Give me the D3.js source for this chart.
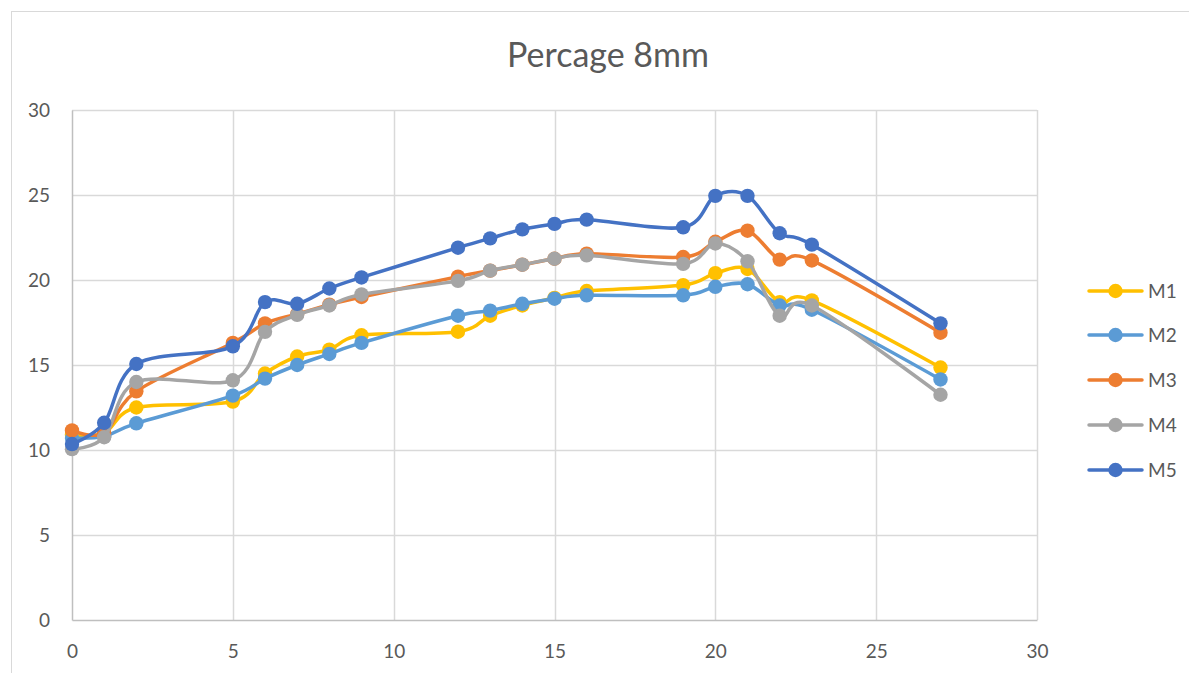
<!DOCTYPE html>
<html>
<head>
<meta charset="utf-8">
<script src="https://cdn.jsdelivr.net/npm/d3@7"></script>
<style>
  html, body { margin: 0; padding: 0; background: #fff; }
  svg { display: block; }
  text { font-family: Lato, "Open Sans", sans-serif; fill: #595959; }
</style>
</head>
<body>
<svg id="chart" width="1189" height="673"></svg>
<script>
// Measurement positions (x) shared by every series
const positions = [0, 1, 2, 5, 6, 7, 8, 9, 12, 13, 14, 15, 16, 19, 20, 21, 22, 23, 27];

const seriesNames = ["M1", "M2", "M3", "M4", "M5"];
const m1 = [10.9, 11.0, 12.5, 12.85, 14.5, 15.5, 15.9, 16.75, 16.96, 17.9, 18.5, 18.95, 19.35, 19.7, 20.4, 20.65, 18.7, 18.8, 14.85];
const m2 = [10.7, 10.8, 11.57, 13.2, 14.2, 15.0, 15.65, 16.3, 17.9, 18.2, 18.6, 18.9, 19.1, 19.1, 19.6, 19.75, 18.5, 18.25, 14.15];
const m3 = [11.15, 11.0, 13.45, 16.3, 17.45, 18.0, 18.55, 19.0, 20.2, 20.55, 20.9, 21.25, 21.55, 21.35, 22.25, 22.9, 21.2, 21.15, 16.9];
const m4 = [10.05, 10.75, 14.0, 14.1, 16.95, 17.95, 18.5, 19.15, 19.95, 20.55, 20.9, 21.25, 21.45, 20.95, 22.15, 21.1, 17.9, 18.5, 13.25];
const m5 = [10.35, 11.6, 15.06, 16.1, 18.7, 18.6, 19.5, 20.15, 21.9, 22.45, 22.98, 23.3, 23.55, 23.1, 24.95, 24.95, 22.75, 22.08, 17.45];
const seriesValues = [m1, m2, m3, m4, m5];
const seriesColors = ["#FFC000", "#5B9BD5", "#ED7D31", "#A5A5A5", "#4472C4"];

const xTicks = [0, 5, 10, 15, 20, 25, 30];
const yTicks = [0, 5, 10, 15, 20, 25, 30];
const title = "Percage 8mm";

const svg = d3.select("#chart");

// Chart frame
svg.append("rect")
  .attr("x", 11.5).attr("y", 11.5)
  .attr("width", 1200).attr("height", 700)
  .attr("fill", "#fff").attr("stroke", "#d9d9d9").attr("stroke-width", 1);

const x = d3.scaleLinear().domain([0, 30]).range([72, 1037]);
const y = d3.scaleLinear().domain([0, 30]).range([620, 110]);

// Gridlines
const grid = svg.append("g");
grid.selectAll(".gx").data(xTicks.slice(1)).join("line")
  .attr("x1", d => Math.round(x(d)) + 0.5).attr("x2", d => Math.round(x(d)) + 0.5)
  .attr("y1", y(30)).attr("y2", y(0))
  .attr("stroke", "#d9d9d9").attr("stroke-width", 1.5);
grid.selectAll(".gy").data(yTicks.slice(1)).join("line")
  .attr("x1", x(0)).attr("x2", x(30))
  .attr("y1", d => Math.round(y(d)) + 0.5).attr("y2", d => Math.round(y(d)) + 0.5)
  .attr("stroke", "#d9d9d9").attr("stroke-width", 1.5);

// Axes
const xAxis = svg.append("g").attr("transform", `translate(0,${y(0)})`)
  .call(d3.axisBottom(x).tickValues(xTicks).tickSize(0).tickPadding(25));
const yAxis = svg.append("g").attr("transform", `translate(${x(0)},0)`)
  .call(d3.axisLeft(y).tickValues(yTicks).tickSize(0).tickPadding(22));
[xAxis, yAxis].forEach(a => {
  a.select(".domain").attr("stroke", "#bfbfbf").attr("stroke-width", 1.5);
  a.selectAll("text").style("font-size", "19px").attr("fill", "#595959")
    .style("font-family", "Lato, 'Open Sans', sans-serif");
});

// Title
svg.append("text")
  .attr("x", 608).attr("y", 67)
  .attr("text-anchor", "middle")
  .style("font-size", "34px")
  .text(title);

// Series lines and markers
const line = d3.line()
  .x((d, i) => x(positions[i]))
  .y(d => y(d))
  .curve(d3.curveCardinal.tension(0));

seriesValues.forEach((vals, s) => {
  const g = svg.append("g");
  g.append("path")
    .datum(vals)
    .attr("d", line)
    .attr("fill", "none")
    .attr("stroke", seriesColors[s])
    .attr("stroke-width", 3.5)
    .attr("stroke-linejoin", "round")
    .attr("stroke-linecap", "round");
  g.selectAll("circle").data(vals).join("circle")
    .attr("cx", (d, i) => x(positions[i]))
    .attr("cy", d => y(d))
    .attr("r", 7.2)
    .attr("fill", seriesColors[s]);
});

// Legend
const legendY = [291, 335, 380, 425, 470];
const legend = svg.append("g");
seriesNames.forEach((name, s) => {
  const g = legend.append("g").attr("transform", `translate(0,${legendY[s]})`);
  g.append("line")
    .attr("x1", 1089).attr("x2", 1142)
    .attr("stroke", seriesColors[s]).attr("stroke-width", 3.5)
    .attr("stroke-linecap", "round");
  g.append("circle").attr("cx", 1115.5).attr("cy", 0).attr("r", 7.2)
    .attr("fill", seriesColors[s]);
  g.append("text").attr("x", 1148).attr("y", 0).attr("dy", "0.36em")
    .style("font-size", "19px").text(name);
});
</script>
</body>
</html>
